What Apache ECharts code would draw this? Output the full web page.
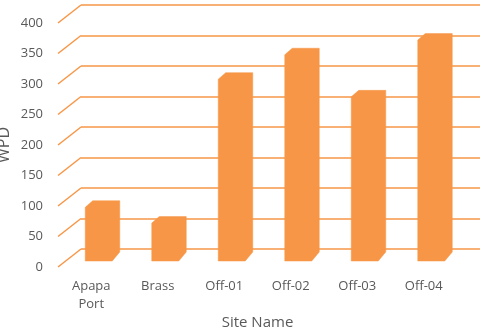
<!DOCTYPE html>
<html>
<head>
<meta charset="utf-8">
<script src="https://cdn.jsdelivr.net/npm/echarts@6/dist/echarts.min.js"></script>
<style>html,body{margin:0;padding:0;background:#fff}#c{width:484px;height:329px}</style>
</head>
<body>
<div id="c"></div>
<script>
var categories = ['Apapa Port', 'Brass', 'Off-01', 'Off-02', 'Off-03', 'Off-04'];
var wpdValues = [84, 58, 294, 334, 265, 358];
var yTicks = [0, 50, 100, 150, 200, 250, 300, 350, 400];

var ORANGE = '#F79646';
var TEXT = '#595959';
var FONT = 'Open Sans';

var chart = echarts.init(document.getElementById('c'), null, {renderer: 'canvas'});

chart.setOption({
  animation: false,
  backgroundColor: '#ffffff',
  grid: [
    // back wall
    {left: 81, right: 4, top: 5, bottom: 80, containLabel: false, outerBoundsMode: 'none'},
    // front edge (labels)
    {left: 58, right: 27, top: 23, bottom: 62, containLabel: false, outerBoundsMode: 'none'}
  ],
  xAxis: [
    {
      gridIndex: 0,
      type: 'category',
      data: categories,
      boundaryGap: true,
      axisLine: {show: false},
      axisTick: {show: false},
      splitLine: {show: false},
      axisLabel: {show: false}
    },
    {
      gridIndex: 1,
      type: 'category',
      data: categories,
      boundaryGap: true,
      axisLine: {show: false},
      axisTick: {show: false},
      splitLine: {show: false},
      axisLabel: {
        interval: 0,
        margin: 10,
        color: TEXT,
        fontFamily: FONT,
        fontSize: 13,
        lineHeight: 18,
        formatter: function (v) { return v.replace(' ', '\n'); }
      },
      name: 'Site Name',
      nameLocation: 'middle',
      nameGap: 48,
      nameMoveOverlap: false,
      nameTextStyle: {color: TEXT, fontFamily: FONT, fontSize: 15}
    }
  ],
  yAxis: [
    {
      gridIndex: 0,
      type: 'value',
      min: 0,
      max: 400,
      interval: 50,
      axisLine: {show: false},
      axisTick: {show: false},
      splitLine: {show: true, lineStyle: {color: ORANGE, width: 1.5}},
      axisLabel: {show: false}
    },
    {
      gridIndex: 1,
      type: 'value',
      min: 0,
      max: 400,
      interval: 50,
      axisLine: {show: false},
      axisTick: {show: false},
      splitLine: {show: false},
      axisLabel: {
        margin: 15,
        color: TEXT,
        fontFamily: FONT,
        fontSize: 13
      },
      name: 'WPD',
      nameLocation: 'middle',
      nameRotate: 90,
      nameGap: 46,
      nameMoveOverlap: false,
      nameTextStyle: {color: TEXT, fontFamily: FONT, fontSize: 16}
    }
  ],
  series: [
    {
      type: 'custom',
      name: 'floor-diagonals',
      xAxisIndex: 0,
      yAxisIndex: 0,
      silent: true,
      z: 1,
      data: yTicks.map(function (v) { return [0, v]; }),
      renderItem: function (params, api) {
        var y = api.coord([0, api.value(1)])[1];
        var x = params.coordSys.x;
        return {
          type: 'line',
          shape: {x1: x, y1: y, x2: x - 23, y2: y + 18},
          style: {stroke: ORANGE, lineWidth: 1.5}
        };
      }
    },
    {
      type: 'custom',
      name: 'WPD',
      xAxisIndex: 0,
      yAxisIndex: 0,
      z: 3,
      data: wpdValues.map(function (v, i) { return [i, v]; }),
      renderItem: function (params, api) {
        var top = api.coord([api.value(0), api.value(1)]);
        var base = api.coord([api.value(0), 0]);
        var cx = top[0];
        var hw = 13.5;
        var fx = cx - 15.5, bx = cx - 8;
        var pts = [
          [fx - hw, base[1] + 12],
          [fx - hw, top[1] + 9.5],
          [bx - hw, top[1] + 3],
          [bx + hw, top[1] + 3],
          [bx + hw, base[1] + 3],
          [fx + hw, base[1] + 12]
        ];
        return {
          type: 'polygon',
          shape: {points: pts},
          style: {fill: ORANGE, stroke: ORANGE, lineWidth: 0.5}
        };
      }
    }
  ]
});
</script>
</body>
</html>
